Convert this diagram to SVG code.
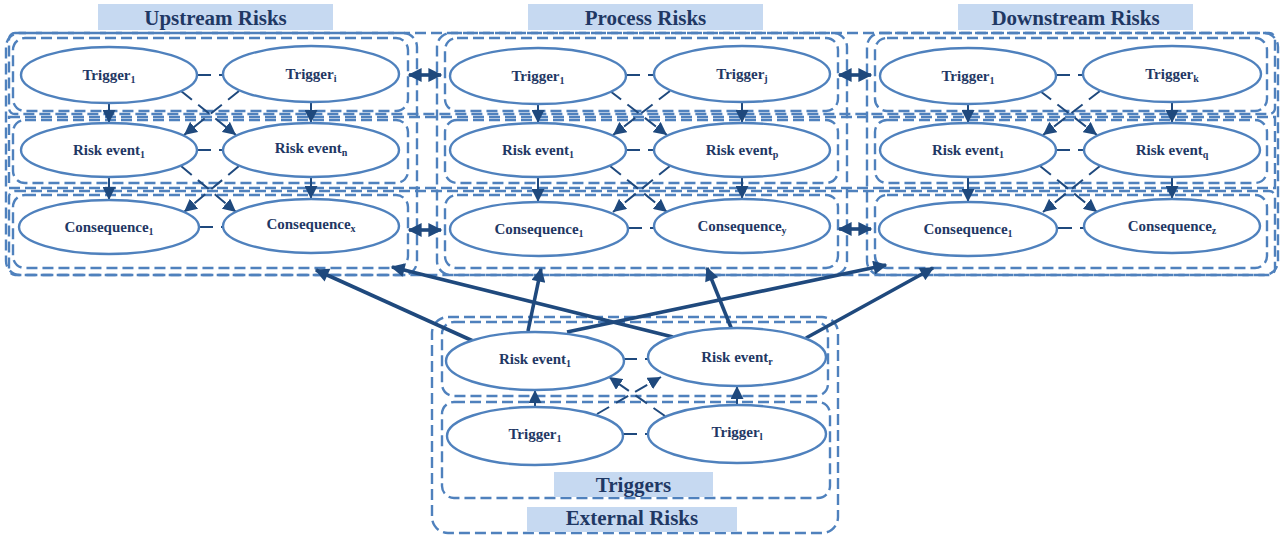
<svg xmlns="http://www.w3.org/2000/svg" width="1282" height="535" viewBox="0 0 1282 535">
<style>
.box{fill:none;stroke:#4f81bd;stroke-width:2.4;stroke-dasharray:11,5}
.ell{fill:#ffffff;stroke:#4f81bd;stroke-width:2.4}
.lbl{font-family:"Liberation Serif","Times New Roman",serif;font-weight:bold;font-size:15px;fill:#1f3864;text-anchor:middle}
.sub{font-size:10px}
.ttl{fill:#c6d9f1}
.ttx{font-family:"Liberation Serif","Times New Roman",serif;font-weight:bold;font-size:21px;fill:#1f3864;text-anchor:middle}
.dl{stroke:#1f497d;stroke-width:2;stroke-dasharray:14,8;fill:none}
.va{stroke:#1f497d;stroke-width:2;fill:none;marker-end:url(#ah)}
.da{stroke:#1f497d;stroke-width:2;stroke-dasharray:14,8;fill:none;marker-end:url(#ah)}
.ta{stroke:#1f497d;stroke-width:3.6;fill:none;marker-end:url(#th)}
.ba{stroke:#1f497d;stroke-width:3.6;fill:none;marker-end:url(#th);marker-start:url(#th)}
</style>
<defs>
<marker id="ah" viewBox="0 0 10 10" refX="10" refY="5" markerWidth="13" markerHeight="13" markerUnits="userSpaceOnUse" orient="auto-start-reverse"><path d="M0,0L10,5L0,10z" fill="#1f497d"/></marker>
<marker id="th" viewBox="0 0 10 10" refX="9" refY="5" markerWidth="15" markerHeight="14" markerUnits="userSpaceOnUse" orient="auto-start-reverse"><path d="M0,0L10,5L0,10z" fill="#1f497d"/></marker>
</defs>
<rect width="1282" height="535" fill="#ffffff"/>

<g id="containers">
<rect class="box" x="9" y="33" width="1266" height="81" rx="6"/>
<rect class="box" x="9" y="117" width="1266" height="71"/>
<rect class="box" x="9" y="191" width="1266" height="84" rx="6"/>
<rect class="box" x="6" y="33" width="411" height="242" rx="14"/>
<rect class="box" x="437" y="33" width="410" height="242" rx="14"/>
<rect class="box" x="867" y="33" width="411" height="242" rx="14"/>
<rect class="box" x="13" y="38" width="395" height="73" rx="12"/>
<rect class="box" x="13" y="120" width="395" height="63" rx="12"/>
<rect class="box" x="13" y="195" width="395" height="73" rx="12"/>
<rect class="box" x="445" y="38" width="393" height="73" rx="12"/>
<rect class="box" x="445" y="120" width="393" height="63" rx="12"/>
<rect class="box" x="445" y="195" width="393" height="73" rx="12"/>
<rect class="box" x="875" y="38" width="392" height="73" rx="12"/>
<rect class="box" x="875" y="120" width="392" height="63" rx="12"/>
<rect class="box" x="875" y="195" width="392" height="73" rx="12"/>
<rect class="box" x="432" y="317" width="406" height="216" rx="16"/>
<rect class="box" x="442" y="322" width="386" height="74" rx="12"/>
<rect class="box" x="442" y="402" width="388" height="96" rx="12"/>
</g>

<g id="titles">
<g id="title-upstream"><rect class="ttl" x="98" y="4" width="235" height="26"/><text class="ttx" x="215.5" y="25">Upstream Risks</text></g>
<g id="title-process"><rect class="ttl" x="528" y="4" width="235" height="26"/><text class="ttx" x="645.5" y="25">Process Risks</text></g>
<g id="title-downstream"><rect class="ttl" x="958" y="4" width="235" height="26"/><text class="ttx" x="1075.5" y="25">Downstream Risks</text></g>
<g id="title-triggers"><rect class="ttl" x="554" y="472" width="159" height="25"/><text class="ttx" x="633.5" y="492">Triggers</text></g>
<g id="title-external"><rect class="ttl" x="527" y="507" width="210" height="25"/><text class="ttx" x="632" y="525">External Risks</text></g>
</g>

<g id="connectors">
<line class="dl" x1="197" y1="75" x2="223" y2="75"/>
<line class="dl" x1="197" y1="150" x2="223" y2="150"/>
<line class="dl" x1="199" y1="227" x2="223" y2="227"/>
<line class="va" x1="109" y1="103" x2="109" y2="123"/>
<line class="va" x1="311" y1="102" x2="311" y2="123"/>
<line class="va" x1="109" y1="177" x2="109" y2="200"/>
<line class="va" x1="311" y1="177" x2="311" y2="199"/>
<line class="da" x1="181" y1="91" x2="236" y2="135"/>
<line class="da" x1="239" y1="91" x2="184" y2="135"/>
<line class="da" x1="181" y1="166" x2="236" y2="212"/>
<line class="da" x1="239" y1="166" x2="184" y2="212"/>

<line class="dl" x1="626" y1="75" x2="654" y2="75"/>
<line class="dl" x1="626" y1="150" x2="654" y2="150"/>
<line class="dl" x1="628" y1="228" x2="654" y2="228"/>
<line class="va" x1="538" y1="104" x2="538" y2="123"/>
<line class="va" x1="742" y1="102" x2="742" y2="123"/>
<line class="va" x1="538" y1="177" x2="538" y2="202"/>
<line class="va" x1="742" y1="177" x2="742" y2="199"/>
<line class="da" x1="610" y1="91" x2="667" y2="135"/>
<line class="da" x1="670" y1="91" x2="613" y2="135"/>
<line class="da" x1="610" y1="166" x2="667" y2="212"/>
<line class="da" x1="670" y1="166" x2="613" y2="212"/>

<line class="dl" x1="1056" y1="75" x2="1084" y2="75"/>
<line class="dl" x1="1056" y1="150" x2="1084" y2="150"/>
<line class="dl" x1="1058" y1="228" x2="1084" y2="228"/>
<line class="va" x1="968" y1="104" x2="968" y2="123"/>
<line class="va" x1="1172" y1="102" x2="1172" y2="123"/>
<line class="va" x1="968" y1="177" x2="968" y2="202"/>
<line class="va" x1="1172" y1="177" x2="1172" y2="199"/>
<line class="da" x1="1040" y1="91" x2="1097" y2="135"/>
<line class="da" x1="1100" y1="91" x2="1043" y2="135"/>
<line class="da" x1="1040" y1="166" x2="1097" y2="212"/>
<line class="da" x1="1100" y1="166" x2="1043" y2="212"/>

<line class="ba" x1="409" y1="75" x2="441" y2="75"/>
<line class="ba" x1="839" y1="75" x2="871" y2="75"/>
<line class="ba" x1="409" y1="230" x2="441" y2="230"/>
<line class="ba" x1="839" y1="229" x2="871" y2="229"/>

<line class="dl" x1="623" y1="359" x2="649" y2="359"/>
<line class="dl" x1="623" y1="434" x2="649" y2="434"/>
<line class="va" x1="535" y1="407" x2="535" y2="390"/>
<line class="va" x1="737" y1="405" x2="737" y2="386"/>
<line class="da" x1="597" y1="414" x2="661" y2="377"/>
<line class="da" x1="665" y1="416" x2="609" y2="377"/>
<line class="ta" x1="473" y1="341" x2="316" y2="270"/>
<line class="ta" x1="528" y1="331" x2="541" y2="269"/>
<line class="ta" x1="567" y1="332" x2="886" y2="265"/>
<line class="ta" x1="673" y1="337" x2="392" y2="267"/>
<line class="ta" x1="732" y1="330" x2="707" y2="268"/>
<line class="ta" x1="806" y1="338" x2="933" y2="268"/>
</g>

<g id="up-trigger1"><ellipse class="ell" cx="109" cy="75" rx="88" ry="28"/><text class="lbl" x="109" y="80">Trigger<tspan class="sub" dy="3">1</tspan></text></g>
<g id="up-triggeri"><ellipse class="ell" cx="311" cy="74" rx="88" ry="28"/><text class="lbl" x="311" y="79">Trigger<tspan class="sub" dy="3">i</tspan></text></g>
<g id="up-risk1"><ellipse class="ell" cx="109" cy="150" rx="88" ry="27"/><text class="lbl" x="109" y="155">Risk event<tspan class="sub" dy="3">1</tspan></text></g>
<g id="up-riskn"><ellipse class="ell" cx="311" cy="150" rx="88" ry="27"/><text class="lbl" x="311" y="153">Risk event<tspan class="sub" dy="3">n</tspan></text></g>
<g id="up-cons1"><ellipse class="ell" cx="109" cy="227" rx="90" ry="27"/><text class="lbl" x="109" y="232">Consequence<tspan class="sub" dy="3">1</tspan></text></g>
<g id="up-consx"><ellipse class="ell" cx="311" cy="226" rx="88" ry="27"/><text class="lbl" x="311" y="229">Consequence<tspan class="sub" dy="3">x</tspan></text></g>

<g id="pr-trigger1"><ellipse class="ell" cx="538" cy="76" rx="88" ry="28"/><text class="lbl" x="538" y="81">Trigger<tspan class="sub" dy="3">1</tspan></text></g>
<g id="pr-triggerj"><ellipse class="ell" cx="742" cy="74" rx="88" ry="28"/><text class="lbl" x="742" y="79">Trigger<tspan class="sub" dy="3">j</tspan></text></g>
<g id="pr-risk1"><ellipse class="ell" cx="538" cy="150" rx="88" ry="27"/><text class="lbl" x="538" y="155">Risk event<tspan class="sub" dy="3">1</tspan></text></g>
<g id="pr-riskp"><ellipse class="ell" cx="742" cy="150" rx="88" ry="27"/><text class="lbl" x="742" y="155">Risk event<tspan class="sub" dy="3">p</tspan></text></g>
<g id="pr-cons1"><ellipse class="ell" cx="539" cy="229" rx="89" ry="27"/><text class="lbl" x="539" y="234">Consequence<tspan class="sub" dy="3">1</tspan></text></g>
<g id="pr-consy"><ellipse class="ell" cx="742" cy="226" rx="88" ry="27"/><text class="lbl" x="742" y="231">Consequence<tspan class="sub" dy="3">y</tspan></text></g>

<g id="dn-trigger1"><ellipse class="ell" cx="968" cy="76" rx="88" ry="28"/><text class="lbl" x="968" y="81">Trigger<tspan class="sub" dy="3">1</tspan></text></g>
<g id="dn-triggerk"><ellipse class="ell" cx="1172" cy="74" rx="89" ry="28"/><text class="lbl" x="1172" y="79">Trigger<tspan class="sub" dy="3">k</tspan></text></g>
<g id="dn-risk1"><ellipse class="ell" cx="968" cy="150" rx="88" ry="27"/><text class="lbl" x="968" y="155">Risk event<tspan class="sub" dy="3">1</tspan></text></g>
<g id="dn-riskq"><ellipse class="ell" cx="1172" cy="150" rx="88" ry="27"/><text class="lbl" x="1172" y="155">Risk event<tspan class="sub" dy="3">q</tspan></text></g>
<g id="dn-cons1"><ellipse class="ell" cx="968" cy="229" rx="89" ry="27"/><text class="lbl" x="968" y="234">Consequence<tspan class="sub" dy="3">1</tspan></text></g>
<g id="dn-consz"><ellipse class="ell" cx="1172" cy="226" rx="88" ry="27"/><text class="lbl" x="1172" y="231">Consequence<tspan class="sub" dy="3">z</tspan></text></g>

<g id="ex-risk1"><ellipse class="ell" cx="535" cy="361" rx="89" ry="29"/><text class="lbl" x="535" y="364">Risk event<tspan class="sub" dy="3">1</tspan></text></g>
<g id="ex-riskr"><ellipse class="ell" cx="737" cy="357" rx="89" ry="29"/><text class="lbl" x="737" y="362">Risk event<tspan class="sub" dy="3">r</tspan></text></g>
<g id="ex-trigger1"><ellipse class="ell" cx="535" cy="436" rx="88" ry="29"/><text class="lbl" x="535" y="439">Trigger<tspan class="sub" dy="3">1</tspan></text></g>
<g id="ex-triggerl"><ellipse class="ell" cx="737" cy="434" rx="89" ry="29"/><text class="lbl" x="737" y="437">Trigger<tspan class="sub" dy="3">l</tspan></text></g>
</svg>
